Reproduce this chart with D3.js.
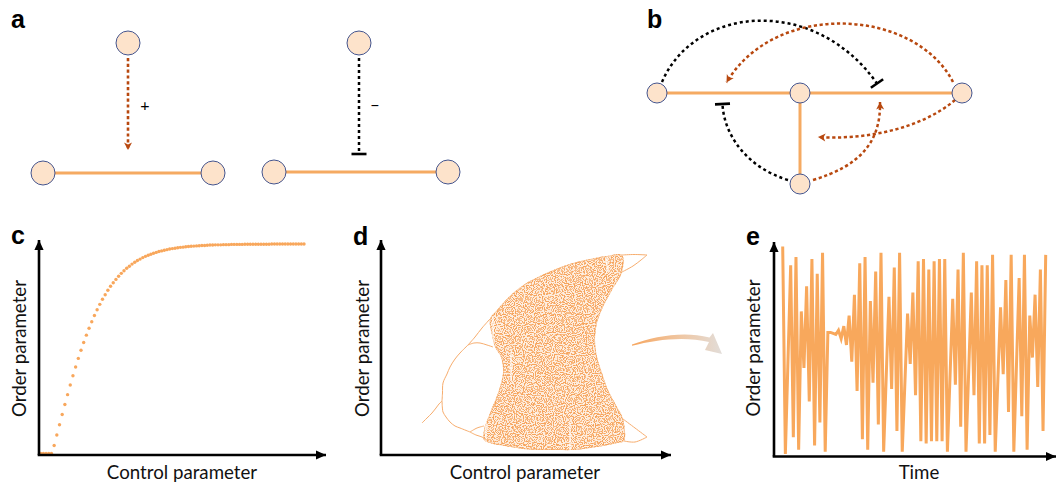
<!DOCTYPE html>
<html><head><meta charset="utf-8">
<script src="https://cdn.jsdelivr.net/npm/d3@7"></script>
<style>body{margin:0;background:#fff}svg{display:block}</style>
</head><body>
<svg id="chart" width="1057" height="482"></svg>
<script>
// ---------------- DATA ----------------
const panelLabels = ["a", "b", "c", "d", "e"];
const xTitleControl = "Control parameter";
const xTitleTime = "Time";
const yTitle = "Order parameter";
const signLabels = ["+", "\u2212"];

// panel c: order parameter vs control parameter (dots)
const cControl = d3.range(-5, 94);
const cOrder = [0,0,0,0,0,
 .038,.088,.137,.186,.234,.281,.327,.371,.413,.454,
 .493,.530,.565,.598,.629,.659,.686,.712,.736,.758,
 .779,.798,.815,.831,.846,.860,.872,.884,.894,.904,
 .913,.921,.928,.935,.941,.946,.951,.956,.960,.964,
 .967,.970,.973,.976,.978,.980,.982,.984,.985,.987,
 .988,.989,.990,.991,.992,.993,.993,.994,.995,.995,
 .996,.996,.996,.997,.997,.997,.998,.998,.998,.998,
 .998,.999,.999,.999,.999,.999,.999,.999,.999,.999,
 .999,1,1,1,1,1,1,1,1,1,1,1,1,1];

// panel d: bifurcation diagram (control, order)
const dPeriod1 = [[41,32],[46,37],[51,42],[55,47],[58,51],[61,54]];
const dUpper2 = [[61,54],[61.5,62],[62,72],[66,81],[69,88],[74,96],[79,102],[87,110]];
const dUpper4a = [[87,110],[94,118],[101,127],[109,136]];
const dUpper4b = [[87,110],[93,112],[99,112],[106,110],[112,108]];
const dLower2 = [[61,54],[61.5,46],[62,43],[65,38],[69,33],[74,29],[79,27],[89,23]];
const dLower4a = [[89,23],[96,27],[103,29]];
const dLower4b = [[89,23],[95,20],[101,18],[106,15]];
const dRightUpperA = [[241,200],[253,200.5],[266,200]];
const dRightUpperB = [[241,183],[252,189],[260,195],[266,200]];
const dRightLowerA = [[242,36],[254,27],[266,18]];
const dRightLowerB = [[243,14],[254,13],[266,18]];
const dChaos = [[109,136],[116,145],[124,154],[132,162],[144,171],[159,179],[175,186],[192,192],
 [209,196],[226,199],[241,200],[241,183],[231,165],[222,148],[216,132],[214,115],[216,98],
 [221,82],[227,65],[236,48],[242,36],[243,14],[236,12],[222,9],[209,7],[192,5],[176,5],
 [159,5],[142,6],[124,9],[109,12],[103,15],[103,25],[109,42],[117,62],[122,82],[120,98],
 [114,108],[111,120]];
const dWindows = [[112,85,138],[105,8,42],[130,75,103],[189,5,32],[226,183,198]];

// panel e: time series
const eTime = [0,1,3,4,5,6,7,8,9,10,11,12,13,14,15,16,17,18,19,20,21,22,23,24,25,26,27,28,29,30,
 31,32,33,34,35,36,37,38,40,41,42,43,44,45,47,48,49,50,51,52,53,54,55,56,57,58,59,60,61,62,
 64,65,66,67,68,69,71,72,73,74,75,76,77,78,79,80,82,83,84,85,86,87,89,90,91,92,93,94,95,96,97,98,99];
const eOrder = [1.00,0.01,0.91,0.09,0.95,0.03,0.69,0.42,0.81,0.26,0.94,0.05,0.87,0.16,0.97,0.02,
 0.59,0.59,0.585,0.58,0.60,0.56,0.62,0.53,0.67,0.45,0.77,0.31,0.92,0.08,0.95,0.03,0.74,0.35,0.88,
 0.15,0.97,0.02,0.76,0.32,0.90,0.12,0.97,0.02,0.68,0.44,0.78,0.29,0.93,0.07,0.94,0.06,0.89,0.07,
 0.93,0.07,0.94,0.07,0.94,0.02,0.75,0.34,0.89,0.14,0.97,0.02,0.78,0.29,0.93,0.06,0.91,0.06,0.91,
 0.10,0.96,0.02,0.71,0.39,0.84,0.21,0.96,0.02,0.85,0.19,0.96,0.03,0.67,0.47,0.77,0.33,0.89,0.12,0.96];

// network diagrams (a, b)
const aNodeIds = ["a1","a2","a3","a4","a5","a6"];
const bNodeIds = ["b1","b2","b3","b4"];
const aEdges = [["a2","a3"],["a5","a6"]];
const bEdges = [["b1","b2"],["b2","b3"],["b2","b4"]];

// ---------------- LAYOUT / STYLE ----------------
const layout = {
  a1:[128,43], a2:[43,173], a3:[213,173], a4:[359,43], a5:[274,172], a6:[448,172],
  b1:[657,93], b2:[800,93], b3:[962,93], b4:[800,184]
};
const C = {orange:"#f5aa62", dot:"#f8a75c", nodeFill:"#fde3cb", nodeStroke:"#44558f",
  brown:"#b8480f", black:"#111"};

const svg = d3.select("#chart");
const defs = svg.append("defs");

function mk(id, d, fill, stroke, sw){
  const m = defs.append("marker").attr("id", id).attr("markerUnits","userSpaceOnUse")
    .attr("orient","auto").attr("refX",0).attr("refY",0)
    .attr("markerWidth",30).attr("markerHeight",30).attr("overflow","visible");
  m.append("path").attr("d", d).attr("fill", fill).attr("stroke", stroke||"none").attr("stroke-width", sw||0);
}
mk("axArrow","M-10,-4.6 L0,0 L-10,4.6 Z", "#000");
mk("brArrow","M-7.5,-4 L0,0 L-7.5,4 L-5.5,0 Z", C.brown);
mk("tBar","M0,-7.5 L0,7.5", "none", "#000", 2.6);

// gradient for the curved arrow
const grad = defs.append("linearGradient").attr("id","gArrow").attr("gradientUnits","userSpaceOnUse")
  .attr("x1",632).attr("y1",0).attr("x2",722).attr("y2",0);
grad.append("stop").attr("offset",0).attr("stop-color","#f6a660");
grad.append("stop").attr("offset",0.55).attr("stop-color","#efc7a4");
grad.append("stop").attr("offset",1).attr("stop-color","#e2ddd9");

// speckle filter for chaotic band
const f = defs.append("filter").attr("id","speckle").attr("filterUnits","userSpaceOnUse")
  .attr("x",470).attr("y",245).attr("width",190).attr("height",215)
  .attr("color-interpolation-filters","sRGB");
f.append("feTurbulence").attr("type","fractalNoise").attr("baseFrequency",0.9).attr("numOctaves",1).attr("seed",5).attr("result","n");
f.append("feColorMatrix").attr("in","n").attr("type","matrix")
  .attr("values","0 0 0 0 0  0 0 0 0 0  0 0 0 0 0  1 0 0 0 0").attr("result","a");
const ct = f.append("feComponentTransfer").attr("in","a").attr("result","t");
ct.append("feFuncA").attr("type","discrete").attr("tableValues","0 0 0 0 0.1 0.7 1 1 1 1");
f.append("feFlood").attr("flood-color","#f6a45c").attr("result","fl");
f.append("feComposite").attr("in","fl").attr("in2","t").attr("operator","in").attr("result","dots");
f.append("feComposite").attr("in","dots").attr("in2","SourceGraphic").attr("operator","in");

// ---------------- PANEL LABELS ----------------
const labelPos = [[11,28],[647,28],[11,244],[353,245],[746,245]];
svg.selectAll("text.plabel").data(panelLabels).join("text").attr("class","plabel")
  .attr("x",(d,i)=>labelPos[i][0]).attr("y",(d,i)=>labelPos[i][1])
  .attr("font-family","Liberation Sans, Arial, sans-serif").attr("font-weight","bold")
  .attr("font-size",25).attr("fill","#000").text(d=>d);

// ---------------- PANEL A ----------------
const gA = svg.append("g");
gA.selectAll("line.edge").data(aEdges).join("line")
  .attr("x1",d=>layout[d[0]][0]).attr("y1",d=>layout[d[0]][1])
  .attr("x2",d=>layout[d[1]][0]).attr("y2",d=>layout[d[1]][1])
  .attr("stroke",C.orange).attr("stroke-width",3);
gA.append("line").attr("x1",128).attr("y1",58).attr("x2",128).attr("y2",150)
  .attr("stroke",C.brown).attr("stroke-width",2.6).attr("stroke-dasharray","3.2 2.6")
  .attr("marker-end","url(#brArrow)");
gA.append("line").attr("x1",359).attr("y1",58).attr("x2",359).attr("y2",154)
  .attr("stroke","#000").attr("stroke-width",2.5).attr("stroke-dasharray","3 3")
  .attr("marker-end","url(#tBar)");
gA.selectAll("circle").data(aNodeIds).join("circle")
  .attr("cx",d=>layout[d][0]).attr("cy",d=>layout[d][1]).attr("r",12)
  .attr("fill",C.nodeFill).attr("stroke",C.nodeStroke).attr("stroke-width",1);
gA.append("text").attr("x",145).attr("y",111).attr("text-anchor","middle")
  .attr("font-family","Lato, sans-serif").attr("font-size",16).text(signLabels[0]);
gA.append("text").attr("x",375).attr("y",111).attr("text-anchor","middle")
  .attr("font-family","Lato, sans-serif").attr("font-size",16).text(signLabels[1]);

// ---------------- PANEL B ----------------
const gB = svg.append("g");
gB.selectAll("line.edge").data(bEdges).join("line")
  .attr("x1",d=>layout[d[0]][0]).attr("y1",d=>layout[d[0]][1])
  .attr("x2",d=>layout[d[1]][0]).attr("y2",d=>layout[d[1]][1])
  .attr("stroke",C.orange).attr("stroke-width",3);
function bez(p){ const q=d3.path(); q.moveTo(p[0],p[1]); q.bezierCurveTo(p[2],p[3],p[4],p[5],p[6],p[7]); return q.toString(); }
const bArcs = [
  {c:[662,82, 695,5, 815,-5, 877,83.5], type:"inh"},
  {c:[953,82, 915,8, 775,0, 726.5,82.5], type:"act"},
  {c:[955,100, 920,130, 862,140, 818,137], type:"act"},
  {c:[813,180, 860,166, 881,142, 880,102], type:"act"},
  {c:[788,180, 748,168, 724,136, 722.5,104], type:"inh"}
];
gB.selectAll("path.arc").data(bArcs).join("path")
  .attr("d",d=>bez(d.c)).attr("fill","none")
  .attr("stroke",d=>d.type==="act"?C.brown:"#000").attr("stroke-width",2.5)
  .attr("stroke-dasharray",d=>d.type==="act"?"3.2 2.6":"3 3")
  .attr("marker-end",d=>d.type==="act"?"url(#brArrow)":"url(#tBar)");
gB.selectAll("circle").data(bNodeIds).join("circle")
  .attr("cx",d=>layout[d][0]).attr("cy",d=>layout[d][1]).attr("r",10)
  .attr("fill",C.nodeFill).attr("stroke",C.nodeStroke).attr("stroke-width",1);

// ---------------- AXES helper ----------------
function axes(x0, y0, xTip, yTip){
  svg.append("line").attr("x1",x0).attr("y1",y0).attr("x2",x0).attr("y2",yTip)
    .attr("stroke","#000").attr("stroke-width",2.6).attr("marker-end","url(#axArrow)");
  svg.append("line").attr("x1",x0-1.3).attr("y1",y0).attr("x2",xTip).attr("y2",y0)
    .attr("stroke","#000").attr("stroke-width",2.6).attr("marker-end","url(#axArrow)");
}
function titles(xt, xcx, ycx, ycy){
  svg.append("text").attr("x",xcx).attr("y",479).attr("text-anchor","middle")
    .attr("font-family","Lato, sans-serif").attr("font-size",18.7).attr("fill","#111").text(xt);
  svg.append("text").attr("transform",`translate(${ycx},${ycy}) rotate(-90)`).attr("text-anchor","middle")
    .attr("font-family","Lato, sans-serif").attr("font-size",18.7).attr("fill","#111").text(yTitle);
}

// ---------------- PANEL C ----------------
const xC = d3.scaleLinear().domain([-5,93]).range([40.7,304]);
const yC = d3.scaleLinear().domain([0,1]).range([453.5,244]);
svg.append("g").selectAll("circle").data(cControl).join("circle")
  .attr("cx",(d,i)=>xC(d)).attr("cy",(d,i)=>yC(cOrder[i])).attr("r",1.7).attr("fill",C.dot);
axes(39,455,326,240);
titles(xTitleControl,182,26,348.5);

// ---------------- PANEL D ----------------
const xD = d3.scaleLinear().domain([0,290]).range([381,671]);
const yD = d3.scaleLinear().domain([0,215]).range([455,240]);
const chaosPath = d3.line().x(d=>xD(d[0])).y(d=>yD(d[1])).curve(d3.curveCatmullRomClosed.alpha(0.5))(dChaos);
const gD = svg.append("g");
gD.append("path").attr("d",chaosPath).attr("fill","#f7a860").attr("fill-opacity",0.16);
gD.append("path").attr("d",chaosPath).attr("fill","#000").attr("filter","url(#speckle)");
defs.append("clipPath").attr("id","chaosClip").append("path").attr("d",chaosPath);
gD.append("path").attr("d",chaosPath).attr("fill","none").attr("stroke","#f6a45c")
  .attr("stroke-width",2).attr("stroke-opacity",0.5).attr("clip-path","url(#chaosClip)");
gD.append("g").attr("clip-path","url(#chaosClip)").selectAll("line").data(dWindows).join("line")
  .attr("x1",d=>xD(d[0])).attr("x2",d=>xD(d[0])).attr("y1",d=>yD(d[1])).attr("y2",d=>yD(d[2]))
  .attr("stroke","#fff").attr("stroke-width",1.4).attr("opacity",0.85);
const branchLine = d3.line().x(d=>xD(d[0])).y(d=>yD(d[1])).curve(d3.curveCatmullRom);
gD.selectAll("path.branch").data([dPeriod1,dUpper2,dUpper4a,dUpper4b,dLower2,dLower4a,dLower4b,
  dRightUpperA,dRightUpperB,dRightLowerA,dRightLowerB]).join("path")
  .attr("d",branchLine).attr("fill","none").attr("stroke","#f7ad6e").attr("stroke-width",1);
axes(381,455,671,240);
titles(xTitleControl,525,369,348.5);
// curved arrow to panel e
svg.append("path")
  .attr("d","M632,344.6 C655,336 684,331 709.5,337.5 L713,333 L722,354 L705,350 L709,342 C685,336 656,339.5 632,345.8 Z")
  .attr("fill","url(#gArrow)");

// ---------------- PANEL E ----------------
const xE = d3.scaleLinear().domain([0,99]).range([782.7,1045.7]);
const yE = d3.scaleLinear().domain([0,1]).range([456,246.5]);
svg.append("path").datum(eTime)
  .attr("d", d3.line().x(d=>xE(d)).y((d,i)=>yE(eOrder[i])))
  .attr("fill","none").attr("stroke","#f8a85c").attr("stroke-width",3);
axes(774,456.5,1056,242);
titles(xTitleTime,919,760,348);
</script>
</body></html>
